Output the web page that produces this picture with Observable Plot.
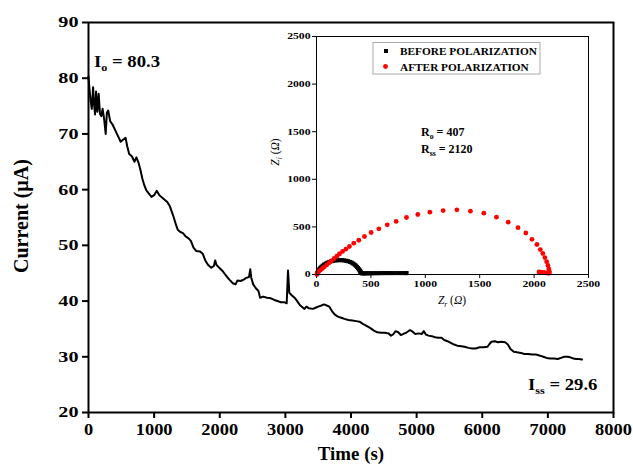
<!DOCTYPE html>
<html><head><meta charset="utf-8">
<script src="https://cdn.jsdelivr.net/npm/d3@7"></script>
<script src="https://cdn.jsdelivr.net/npm/@observablehq/plot@0.6"></script>
<style>
html,body{margin:0;padding:0;background:#fff;}
#wrap{position:relative;width:633px;height:465px;overflow:hidden;}
#wrap svg{position:absolute;left:0;top:0;overflow:visible;}
</style></head><body><div id="wrap"></div>
<script>
// ---- main chart: current vs time ----
const timeS = [0,15,30,50,70,85,100,115,135,155,175,195,215,240,262,280,300,330,370,410,450,490,530,565,590,620,660,700,730,760,790,820,850,880,920,960,1000,1040,1080,1120,1160,1200,1240,1270,1300,1330,1360,1400,1440,1480,1520,1560,
1600,1640,1700,1740,1780,1820,1870,1910,1930,1950,2000,2050,2100,2150,2200,2240,2270,2320,2370,2410,2445,2465,2480,2510,2550,2590,2615,2660,2720,2780,2830,2880,2930,2980,3020,3040,3060,3100,3140,3180,3220,3260,3290,3320,3360,3420,3460,
3500,3550,3590,3630,3670,3710,3750,3800,3850,3900,3960,4020,4080,4130,4180,4230,4290,4350,4400,4460,4520,4570,4610,4640,4680,4720,4760,4800,4850,4900,4940,4980,5030,5080,5110,5140,5180,5230,5280,5330,5380,5420,5470,5520,5570,5620,5680,5730,5790,5850,5900,5960,6020,6080,6110,6140,6190,6240,6290,6350,6390,6430,6480,6530,6590,6640,6700,6760,6820,6880,6930,6980,7040,7100,7150,7200,7250,7300,7340,7390,7430,7470,7520];
const currentUA = [80.3,78,76.2,74.5,78.4,75.2,73.5,77.6,74.0,77.2,73.6,73.2,74.5,72.5,70.0,73.8,74.2,72.3,71.6,70.6,69.6,68.6,69.0,69.3,67.8,66.4,66.0,65.0,65.8,64.9,63.6,62.0,60.8,59.9,59.3,58.7,59.0,59.8,59.0,58.6,58.2,57.8,57.0,56.0,55.0,53.8,52.8,52.4,52.2,51.6,51.3,50.8,
49.6,49.0,48.9,48.5,47.3,46.5,46.0,46.3,47.3,46.5,45.9,45.3,44.5,43.8,43.2,43.0,43.7,43.6,43.9,44.2,44.3,45.7,44.2,43.0,42.3,41.8,40.6,40.8,40.6,40.5,40.2,40.0,39.8,39.8,39.6,45.5,41.5,41.0,40.6,40.0,39.3,38.9,38.6,39.0,38.7,38.6,38.8,
39.0,39.2,39.4,39.2,39.0,38.2,37.6,37.2,37.0,36.8,36.6,36.5,36.4,36.3,35.9,35.6,35.2,34.7,34.4,34.3,34.3,34.2,33.8,34.0,34.6,34.4,33.9,34.1,34.4,34.8,34.5,34.1,34.2,34.1,34.6,34.0,33.8,33.7,33.5,33.4,33.4,33.0,32.8,32.5,32.2,32.0,31.9,31.8,31.6,31.5,31.5,31.7,31.7,31.8,32.3,32.7,32.8,32.6,32.7,32.6,32.2,31.4,30.9,30.8,30.7,30.5,30.5,30.4,30.4,30.2,30.0,29.8,29.7,29.7,29.6,29.8,30.0,30.0,29.9,29.7,29.6,29.6,29.5];
const mainXTicks = [0,1000,2000,3000,4000,5000,6000,7000,8000];
const mainYTicks = [20,30,40,50,60,70,80,90];

// ---- inset: Nyquist plots ----
const beforeZr = [4,8,13,19,26,35,45,57,70,85,101,118,136,155,174,194,214,234,254,273,291,308,324,338,351,362,372,381,389,396,401,405,408,412,420,432,445,460,476,493,512,532,553,576,600,625,652,680,710,742,776,812,828];
const beforeZi = [3,15,28,41,54,67,80,92,104,115,124,132,139,144,148,150,151,150,148,144,139,132,124,114,103,92,80,68,56,45,35,27,20,15,12,12,12,12,13,13,13,14,14,14,15,15,15,15,15,15,15,15,15];
const afterZr = [5,9,21,37,55,73,95,116,138,162,187,211,239,270,303,343,389,441,502,573,650,732,827,931,1042,1164,1290,1415,1538,1654,1762,1852,1924,1980,2026,2057,2080,2099,2115,2127,2135,2139,2140,2136,2125,2110,2095,2080,2065,2052,2045];
const afterZi = [3,18,32,46,63,81,102,123,144,168,193,217,242,266,294,329,360,399,441,480,522,557,599,630,655,672,679,665,644,602,550,492,436,370,315,262,221,178,135,95,60,35,18,14,16,18,20,22,24,25,26];
const insetTicks = [0,500,1000,1500,2000,2500];
const legendLabels = ["BEFORE POLARIZATION","AFTER POLARIZATION"];
const seriesColors = ["#000000","#ff0000"];

const curve = timeS.map((t,k)=>({t, i: currentUA[k]}));
const before = beforeZr.map((z,k)=>({zr:z, zi: beforeZi[k]}));
const after = afterZr.map((z,k)=>({zr:z, zi: afterZi[k]}));

const serif = '"Liberation Serif","Times New Roman",Times,serif';
const plain = d => String(d);

const main = Plot.plot({
  width:633, height:465, marginLeft:88, marginRight:20, marginTop:22, marginBottom:53,
  style:{fontFamily:serif, fontWeight:"bold", background:"transparent", color:"#000"},
  x:{domain:[0,8000]}, y:{domain:[20,90]},
  marks:[
    Plot.axisX(mainXTicks,{tickSize:6, tickPadding:5, strokeWidth:2, label:null, tickFormat:plain, fontSize:16, fontWeight:"bold"}),
    Plot.axisY(mainYTicks,{tickSize:6, tickPadding:4, strokeWidth:2, label:null, tickFormat:plain, fontSize:15.5, fontWeight:"bold"}),
    Plot.line(curve,{x:"t", y:"i", stroke:"#000", strokeWidth:2}),
    Plot.frame({stroke:"#000", strokeWidth:2})
  ]
});

const inset = Plot.plot({
  width:633, height:465, marginLeft:316, marginRight:45, marginTop:36, marginBottom:191,
  style:{fontFamily:serif, fontWeight:"bold", background:"transparent", color:"#000"},
  x:{domain:[0,2500]}, y:{domain:[0,2500]},
  marks:[
    Plot.axisX(insetTicks,{tickSize:4, tickPadding:2, label:null, tickFormat:plain, fontSize:9, fontWeight:"bold"}),
    Plot.axisY(insetTicks,{tickSize:4, tickPadding:2, label:null, tickFormat:plain, fontSize:9, fontWeight:"bold"}),
    Plot.dot(before,{x:"zr", y:"zi", symbol:"square", r:2.3, fill:seriesColors[0], stroke:"none"}),
    Plot.dot(after,{x:"zr", y:"zi", r:2.4, fill:seriesColors[1], stroke:"none"}),
    Plot.frame({stroke:"#000", strokeWidth:1})
  ]
});

const wrap = document.getElementById("wrap");
wrap.appendChild(main);
wrap.appendChild(inset);

function stretch(svg, sel, sx){
  svg.querySelectorAll(sel).forEach(t=>{
    const tr = t.getAttribute("transform")||"";
    const x = +t.getAttribute("x")||0, y = +t.getAttribute("y")||0;
    t.setAttribute("transform", `${tr} translate(${x},${y}) scale(${sx},1) translate(${-x},${-y})`);
  });
}
stretch(main,'g[aria-label="x-axis tick label"] text',1.15);
stretch(main,'g[aria-label="y-axis tick label"] text',1.3);
stretch(inset,'g[aria-label="x-axis tick label"] text',1.3);
stretch(inset,'g[aria-label="y-axis tick label"] text',1.3);

// ---- annotation overlay ----
const ov = d3.select(wrap).append("svg").attr("width",633).attr("height",465)
  .style("font-family",serif);

function rich(x,y,size,parts,opts={}){
  const t = ov.append("text").attr("x",x).attr("y",y).attr("font-size",size)
    .attr("font-weight",opts.weight||"bold").attr("text-anchor",opts.anchor||"start");
  if(opts.transform) t.attr("transform",opts.transform).attr("x",0).attr("y",0);
  let shift=0;
  parts.forEach(p=>{
    const s = t.append("tspan").text(p.s);
    if(p.sub){ s.attr("font-size",size*0.65).attr("dy",size*0.25-shift); shift=size*0.25; }
    else { if(shift){ s.attr("dy",-shift); shift=0; } }
    if(p.it) s.attr("font-style","italic");
  });
  if(opts.sx) t.attr("transform",(t.attr("transform")||"")+` translate(${opts.transform?0:x},${opts.transform?0:y}) scale(${opts.sx},1) translate(${opts.transform?0:-x},${opts.transform?0:-y})`);
  return t;
}
rich(94,67,17,[{s:"I"},{s:"o",sub:true},{s:" = 80.3"}],{sx:1.1});
rich(528,390,17,[{s:"I"},{s:"ss",sub:true},{s:" = 29.6"}],{sx:1.1});
rich(421,136,12,[{s:"R"},{s:"o",sub:true},{s:" = 407"}]);
rich(421,153,12,[{s:"R"},{s:"ss",sub:true},{s:" = 2120"}]);
rich(452,304,11.5,[{s:"Z",it:true},{s:"r",sub:true,it:true},{s:" ("},{s:"Ω",it:true},{s:")"}],{anchor:"middle",weight:"normal"});
rich(0,0,11.5,[{s:"Z",it:true},{s:"i",sub:true,it:true},{s:" ("},{s:"Ω",it:true},{s:")"}],{anchor:"middle",weight:"normal",transform:"translate(279,152) rotate(-90)"});
rich(351,460,18,[{s:"Time (s)"}],{anchor:"middle",sx:1.05});
rich(0,0,20,[{s:"Current (µA)"}],{anchor:"middle",transform:"translate(28,216) rotate(-90)"});

// legend
const lg = ov.append("g");
lg.append("rect").attr("x",373).attr("y",42.5).attr("width",167).attr("height",31.5)
  .attr("fill","none").attr("stroke","#aaa").attr("stroke-width",1);
lg.append("rect").attr("x",384).attr("y",49).attr("width",4).attr("height",4).attr("fill",seriesColors[0]);
lg.append("circle").attr("cx",385.5).attr("cy",66.5).attr("r",2.4).attr("fill",seriesColors[1]);
legendLabels.forEach((s,k)=>{
  lg.append("text").attr("x",400).attr("y",55+k*15.5).attr("font-size",11.3).attr("font-weight","bold").text(s);
});
</script></body></html>
